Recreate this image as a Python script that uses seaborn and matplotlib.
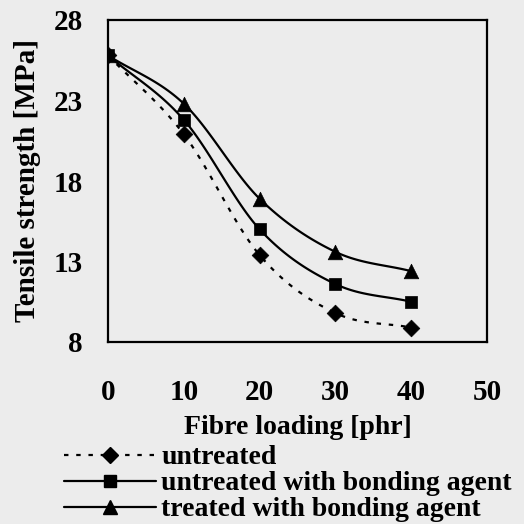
import numpy as np
import pandas as pd
import matplotlib
matplotlib.use("Agg")
import matplotlib.pyplot as plt
import seaborn as sns
from matplotlib.lines import Line2D

fibre = [0, 10, 20, 30, 40]
untreated = [25.8, 20.9, 13.4, 9.8, 8.9]
untreated_ba = [25.8, 21.8, 15.0, 11.6, 10.5]
treated_ba = [25.8, 22.8, 16.9, 13.6, 12.4]
series_names = ["untreated", "untreated with bonding agent", "treated with bonding agent"]
x_ticks = [0, 10, 20, 30, 40, 50]
y_ticks = [8, 13, 18, 23, 28]

sns.set_theme(style="white")
plt.rcParams['font.family'] = ['Liberation Serif', 'DejaVu Serif']
plt.rcParams['font.weight'] = 'bold'
for k in ['text.color', 'axes.labelcolor', 'xtick.color', 'ytick.color']:
    plt.rcParams[k] = 'black'

bg = "#ececec"
fig = plt.figure(figsize=(5.24, 5.24), dpi=100, facecolor=bg)
ax = fig.add_axes([108/524, 1-342/524, (487-108)/524, (342-20)/524])
ax.set_facecolor(bg)

df = pd.DataFrame({
    "fibre": fibre * 3,
    "ts": untreated + untreated_ba + treated_ba,
    "series": [series_names[0]]*5 + [series_names[1]]*5 + [series_names[2]]*5,
})

def smooth(xs, ys, n=30):
    # Bezier smoothing of the connecting line (rendering only, Excel-like)
    xs = np.asarray(xs, float); ys = np.asarray(ys, float)
    px = np.concatenate([[2*xs[0]-xs[1]], xs, [2*xs[-1]-xs[-2]]])
    py = np.concatenate([[2*ys[0]-ys[1]], ys, [2*ys[-1]-ys[-2]]])
    ox, oy = [], []
    t = np.linspace(0, 1, n)
    for i in range(1, len(px)-2):
        p0, p1, p2, p3 = [np.array([px[j], py[j]]) for j in (i-1, i, i+1, i+2)]
        c1 = p1 + (p2 - p0) / 6
        c2 = p2 - (p3 - p1) / 6
        b = ((1-t)**3)[:, None]*p1 + (3*(1-t)**2*t)[:, None]*c1 + (3*(1-t)*t**2)[:, None]*c2 + (t**3)[:, None]*p2
        ox.extend(b[:, 0]); oy.extend(b[:, 1])
    return np.array(ox), np.array(oy)

styles = {
    series_names[0]: dict(ls=(0, (2, 3.5)), marker="D", ms=8.5),
    series_names[1]: dict(ls="-", marker="s", ms=9),
    series_names[2]: dict(ls="-", marker="^", ms=10.5),
}

handles = []
for name in series_names:
    sub = df[df.series == name]
    sx, sy = smooth(sub.fibre, sub.ts)
    st = styles[name]
    ax.plot(sx, sy, color="black", lw=1.6, ls=st["ls"], zorder=2)
    sns.scatterplot(data=sub, x="fibre", y="ts", marker=st["marker"], s=st["ms"]**2,
                    color="black", edgecolor="black", linewidth=0.5, ax=ax, zorder=3, legend=False)
    handles.append(Line2D([], [], color="black", lw=1.6, ls=st["ls"], marker=st["marker"],
                          ms=st["ms"]*0.9, label=name))

ax.set_xlim(0, 50)
ax.set_ylim(8, 28)
ax.set_xticks(x_ticks)
ax.set_yticks(y_ticks)
ax.set_xticklabels([str(v) for v in x_ticks], fontsize=21, fontweight="bold")
ax.set_yticklabels([str(v) for v in y_ticks], fontsize=21, fontweight="bold")
ax.tick_params(axis="x", direction="out", length=6, width=0.8, pad=21, colors="black")
ax.tick_params(axis="y", direction="out", length=3, width=0.8, pad=15, colors="black")
ax.set_xlabel("Fibre loading [phr]", fontsize=20, fontweight="bold", labelpad=6)
ax.set_ylabel("Tensile strength [MPa]", fontsize=21, fontweight="bold", labelpad=9)
for s in ax.spines.values():
    s.set_visible(True)
    s.set_color("black")
    s.set_linewidth(1.6)

leg = fig.legend(handles=handles, loc="upper left", bbox_to_anchor=(64/524, 1-445/524),
                 frameon=False, handlelength=3.3, handletextpad=0.2,
                 labelspacing=0.02, borderaxespad=0, borderpad=0,
                 prop={"weight": "bold", "size": 20})

fig.savefig("out.png", dpi=100, facecolor=bg)
